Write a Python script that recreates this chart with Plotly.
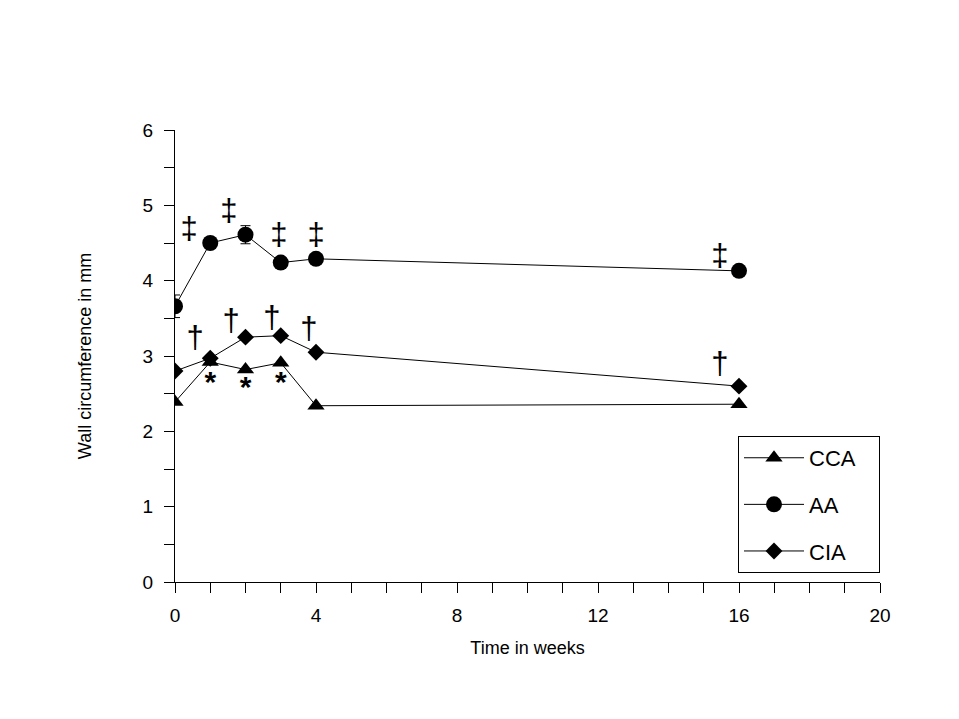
import plotly.graph_objects as go

weeks = [0, 1, 2, 3, 4, 16]
cca = [2.39, 2.92, 2.82, 2.91, 2.34, 2.36]
aa = [3.66, 4.50, 4.61, 4.24, 4.29, 4.13]
aa_err = [0.15, 0.05, 0.12, 0.05, 0.05, 0.05]
cia = [2.80, 2.97, 3.25, 3.27, 3.05, 2.60]

dd_x = [0.4, 1.53, 2.95, 4.0, 15.46]
dd_y = [4.66, 4.89, 4.58, 4.58, 4.30]
d_x = [0.57, 1.59, 2.75, 3.8, 15.46]
d_y = [3.21, 3.44, 3.48, 3.33, 2.86]
st_x = [1, 2, 3]
st_y = [2.62, 2.55, 2.62]

pad = "\u00a0" * 3
fnt = "Liberation Sans, Arial, sans-serif"
nfnt = "Liberation Sans Narrow, Arial Narrow, Liberation Sans, sans-serif"
fig = go.Figure()
fig.add_trace(go.Scatter(x=weeks, y=cca, name="CCA" + pad, mode="lines+markers",
                         line=dict(color="black", width=1),
                         marker=dict(symbol="triangle-up", size=15, color="black"),
                         legendgroup="a"))
fig.add_trace(go.Scatter(x=weeks, y=aa, name="AA" + pad, mode="lines+markers",
                         line=dict(color="black", width=1),
                         error_y=dict(type="data", array=aa_err, color="black", thickness=1, width=5),
                         marker=dict(symbol="circle", size=16, color="black"),
                         legendgroup="b"))
fig.add_trace(go.Scatter(x=weeks, y=cia, name="CIA" + pad, mode="lines+markers",
                         line=dict(color="black", width=1),
                         marker=dict(symbol="diamond", size=13, color="black"),
                         legendgroup="c"))
fig.add_trace(go.Scatter(x=dd_x, y=dd_y, mode="text", text=["‡"] * len(dd_x),
                         textfont=dict(size=31, color="#000000", family=fnt), showlegend=False))
fig.add_trace(go.Scatter(x=d_x, y=d_y, mode="text", text=["†"] * len(d_x),
                         textfont=dict(size=31, color="#000000", family=fnt), showlegend=False))
fig.add_trace(go.Scatter(x=st_x, y=st_y, mode="text", text=["<b>*</b>"] * len(st_x),
                         textfont=dict(size=30, color="#000000", family=fnt), showlegend=False))

fig.update_layout(
    width=951, height=711,
    margin=dict(l=167, r=79, t=122, b=137),
    paper_bgcolor="white", plot_bgcolor="white",
    font=dict(family=fnt, color="black", size=16),
    legend=dict(x=1.0, xanchor="right", y=0.02, yanchor="bottom",
                bordercolor="black", borderwidth=1, bgcolor="white",
                font=dict(size=22), tracegroupgap=15, itemwidth=60),
    xaxis=dict(range=[0, 20], tickvals=[0, 4, 8, 12, 16, 20], showline=True, linecolor="black",
               linewidth=1, ticks="outside", ticklen=10, tickcolor="black", showgrid=False,
               zeroline=False, automargin=False, tickfont=dict(family=nfnt, size=19),
               ticklabelstandoff=6,
               title=dict(text="Time in weeks", standoff=16, font=dict(family=nfnt, size=18)),
               minor=dict(dtick=1, ticks="outside", ticklen=10, tickcolor="black", showgrid=False)),
    yaxis=dict(range=[0, 6], dtick=1, showline=True, linecolor="black", linewidth=1,
               ticks="outside", ticklen=10, tickcolor="black", showgrid=False, zeroline=False,
               automargin=False, tickfont=dict(family=nfnt, size=19), ticklabelstandoff=7,
               title=dict(text="Wall circumference in mm", standoff=46, font=dict(family=nfnt, size=18)),
               minor=dict(dtick=0.5, ticks="outside", ticklen=10, tickcolor="black", showgrid=False)),
)
fig.write_html("out.html")
